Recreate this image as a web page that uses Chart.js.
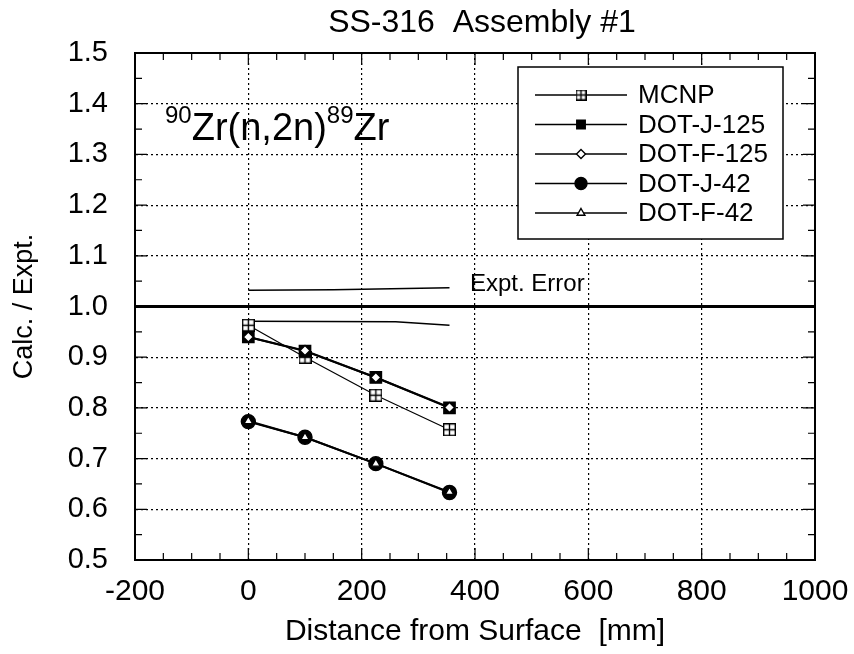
<!DOCTYPE html>
<html lang="en">
<head>
  <meta charset="utf-8">
  <title>SS-316 Assembly #1</title>
  <script src="https://cdn.jsdelivr.net/npm/chart.js"></script>
  <style>
    body { margin: 0; background: #fff; }
    #wrap { width: 854px; height: 654px; }
  </style>
</head>
<body>
  <div id="wrap"><canvas id="chart" width="854" height="654"></canvas></div>
  <script>
    // values
    const distances = [0, 100, 225, 355];
    const mcnp = [0.963, 0.900, 0.825, 0.757];
    const dotJ125 = [0.940, 0.912, 0.860, 0.800];
    const dotF125 = [0.940, 0.913, 0.860, 0.801];
    const dotJ42 = [0.773, 0.742, 0.690, 0.633];
    const dotF42 = [0.774, 0.742, 0.690, 0.634];

    const errUpperX = [0, 150, 355];
    const errUpperY = [1.032, 1.033, 1.037];
    const errLowerX = [0, 260, 355];
    const errLowerY = [0.971, 0.970, 0.963];
    const unityX = [-200, 1000];
    const unityY = [1.0, 1.0];

    const xTicks = [-200, 0, 200, 400, 600, 800, 1000];
    const yTicks = [0.5, 0.6, 0.7, 0.8, 0.9, 1.0, 1.1, 1.2, 1.3, 1.4, 1.5];

    const FONT = '"Liberation Sans", Arial, Helvetica, sans-serif';

    function pts(xs, ys) {
      return xs.map((x, i) => ({ x: x, y: ys[i] }));
    }

    // square with a plus inside, used for MCNP
    function boxPlus(size) {
      const c = document.createElement('canvas');
      c.width = size; c.height = size;
      const g = c.getContext('2d');
      g.fillStyle = '#fff';
      g.fillRect(0, 0, size, size);
      g.strokeStyle = '#000';
      g.lineWidth = 1.4;
      g.strokeRect(0.7, 0.7, size - 1.4, size - 1.4);
      g.beginPath();
      g.moveTo(size / 2, 1); g.lineTo(size / 2, size - 1);
      g.moveTo(1, size / 2); g.lineTo(size - 1, size / 2);
      g.stroke();
      return c;
    }
    const mcnpMark = boxPlus(13);
    const mcnpMarkSmall = boxPlus(11);

    const series = [
      { label: 'MCNP', data: mcnp, style: mcnpMark, small: mcnpMarkSmall, r: 7, fill: '#fff', w: 1.2, order: 2 },
      { label: 'DOT-J-125', data: dotJ125, style: 'rect', r: 8, fill: '#000', w: 2, order: 1 },
      { label: 'DOT-F-125', data: dotF125, style: 'rectRot', r: 5, fill: '#fff', w: 2, order: 0 },
      { label: 'DOT-J-42', data: dotJ42, style: 'circle', r: 7, fill: '#000', w: 2, order: 1 },
      { label: 'DOT-F-42', data: dotF42, style: 'triangle', r: 5, fill: '#fff', w: 2, order: 0 }
    ];

    const datasets = series.map(s => ({
      label: s.label,
      data: pts(distances, s.data),
      borderColor: '#000',
      borderWidth: s.w,
      pointStyle: s.style,
      pointRadius: s.r,
      pointBackgroundColor: s.fill,
      pointBorderColor: '#000',
      pointBorderWidth: 1.4,
      order: s.order
    }));
    [[errUpperX, errUpperY, 1.5], [errLowerX, errLowerY, 1.5], [unityX, unityY, 3]].forEach(l => {
      datasets.push({
        label: '',
        data: pts(l[0], l[1]),
        borderColor: '#000',
        borderWidth: l[2],
        pointRadius: 0,
        order: 3
      });
    });

    const decorations = {
      id: 'decorations',
      afterDraw(chart) {
        const ctx = chart.ctx;
        const a = chart.chartArea;
        const xs = chart.scales.x, ys = chart.scales.y;
        ctx.save();
        ctx.strokeStyle = '#000';
        // frame
        ctx.lineWidth = 2;
        ctx.strokeRect(a.left, a.top, a.right - a.left, a.bottom - a.top);
        // inward ticks
        ctx.lineWidth = 1.2;
        ctx.beginPath();
        for (let v = -200; v <= 1000; v += 50) {
          const p = xs.getPixelForValue(v);
          const len = v % 200 === 0 ? 12 : 7;
          ctx.moveTo(p, a.bottom); ctx.lineTo(p, a.bottom - len);
          ctx.moveTo(p, a.top); ctx.lineTo(p, a.top + len);
        }
        for (let k = 0; k <= 20; k++) {
          const v = 0.5 + k * 0.05;
          const p = ys.getPixelForValue(v);
          const len = k % 2 === 0 ? 12 : 7;
          ctx.moveTo(a.left, p); ctx.lineTo(a.left + len, p);
          ctx.moveTo(a.right, p); ctx.lineTo(a.right - len, p);
        }
        ctx.stroke();

        // title
        ctx.fillStyle = '#000';
        ctx.font = '32px ' + FONT;
        ctx.textAlign = 'center';
        ctx.textBaseline = 'middle';
        ctx.fillText('SS-316  Assembly #1', 482, 23);

        // reaction label
        ctx.textBaseline = 'alphabetic';
        ctx.textAlign = 'left';
        let x = 165;
        const base = 140;
        const parts = [['90', 24, -17], ['Zr(n,2n)', 38, 0], ['89', 24, -17], ['Zr', 38, 0]];
        parts.forEach(p => {
          ctx.font = p[1] + 'px ' + FONT;
          ctx.fillText(p[0], x, base + p[2]);
          x += ctx.measureText(p[0]).width;
        });

        // expt error label
        ctx.font = '24px ' + FONT;
        ctx.textBaseline = 'middle';
        ctx.fillText('Expt. Error', 470, 284);

        // legend box
        const lx = 518, ly = 67, lw = 265, lh = 172;
        ctx.fillStyle = '#fff';
        ctx.fillRect(lx, ly, lw, lh);
        ctx.lineWidth = 1.5;
        ctx.strokeRect(lx, ly, lw, lh);
        ctx.font = '26px ' + FONT;
        series.forEach((s, i) => {
          const yy = 95 + i * 29.5;
          ctx.strokeStyle = '#000';
          ctx.lineWidth = 1.3;
          ctx.beginPath();
          ctx.moveTo(535, yy); ctx.lineTo(627, yy);
          ctx.stroke();
          ctx.fillStyle = s.fill;
          ctx.lineWidth = 1.4;
          Chart.helpers.drawPoint(ctx, {
            pointStyle: s.small || s.style,
            radius: s.style === 'circle' ? 6 : (s.r > 6 ? 6 : 4.5),
            rotation: 0,
            borderWidth: 1.4
          }, 581, yy);
          ctx.fillStyle = '#000';
          ctx.fillText(s.label, 638, yy + 1);
        });
        ctx.restore();
      }
    };

    new Chart(document.getElementById('chart'), {
      type: 'line',
      data: { datasets: datasets },
      options: {
        responsive: false,
        animation: false,
        layout: { padding: { top: 53, right: 39, bottom: 0, left: 0 } },
        plugins: {
          legend: { display: false },
          tooltip: { enabled: false },
          title: { display: false }
        },
        scales: {
          x: {
            type: 'linear',
            min: -200, max: 1000,
            afterBuildTicks: s => { s.ticks = xTicks.map(v => ({ value: v })); },
            afterFit: s => { s.height = 94; s.paddingLeft = 0; s.paddingRight = 0; },
            ticks: {
              color: '#000', padding: 14, font: { family: FONT, size: 30 },
              callback: v => String(v)
            },
            grid: {
              drawTicks: false,
              color: c => (c.tick && (c.tick.value === -200 || c.tick.value === 1000)) ? 'rgba(0,0,0,0)' : '#000',
              lineWidth: 1.2
            },
            border: { display: true, color: '#000', width: 2, dash: [2, 3] },
            title: {
              display: true,
              text: 'Distance from Surface  [mm]',
              color: '#000',
              font: { family: FONT, size: 30 },
              padding: { top: 0, bottom: 4 }
            }
          },
          y: {
            type: 'linear',
            min: 0.5, max: 1.5,
            afterBuildTicks: s => { s.ticks = yTicks.map(v => ({ value: v })); },
            afterFit: s => { s.width = 135; s.paddingTop = 0; s.paddingBottom = 0; },
            ticks: {
              color: '#000', padding: 27, font: { family: FONT, size: 29 },
              callback: v => v.toFixed(1)
            },
            grid: {
              drawTicks: false,
              color: c => (c.tick && (Math.abs(c.tick.value - 0.5) < 1e-6 || Math.abs(c.tick.value - 1.5) < 1e-6)) ? 'rgba(0,0,0,0)' : '#000',
              lineWidth: 1.2
            },
            border: { display: true, color: '#000', width: 2, dash: [2, 3] },
            title: {
              display: true,
              text: 'Calc. / Expt.',
              color: '#000',
              font: { family: FONT, size: 27 },
              padding: { top: 8, bottom: 0 }
            }
          }
        }
      },
      plugins: [decorations]
    });
  </script>
</body>
</html>
